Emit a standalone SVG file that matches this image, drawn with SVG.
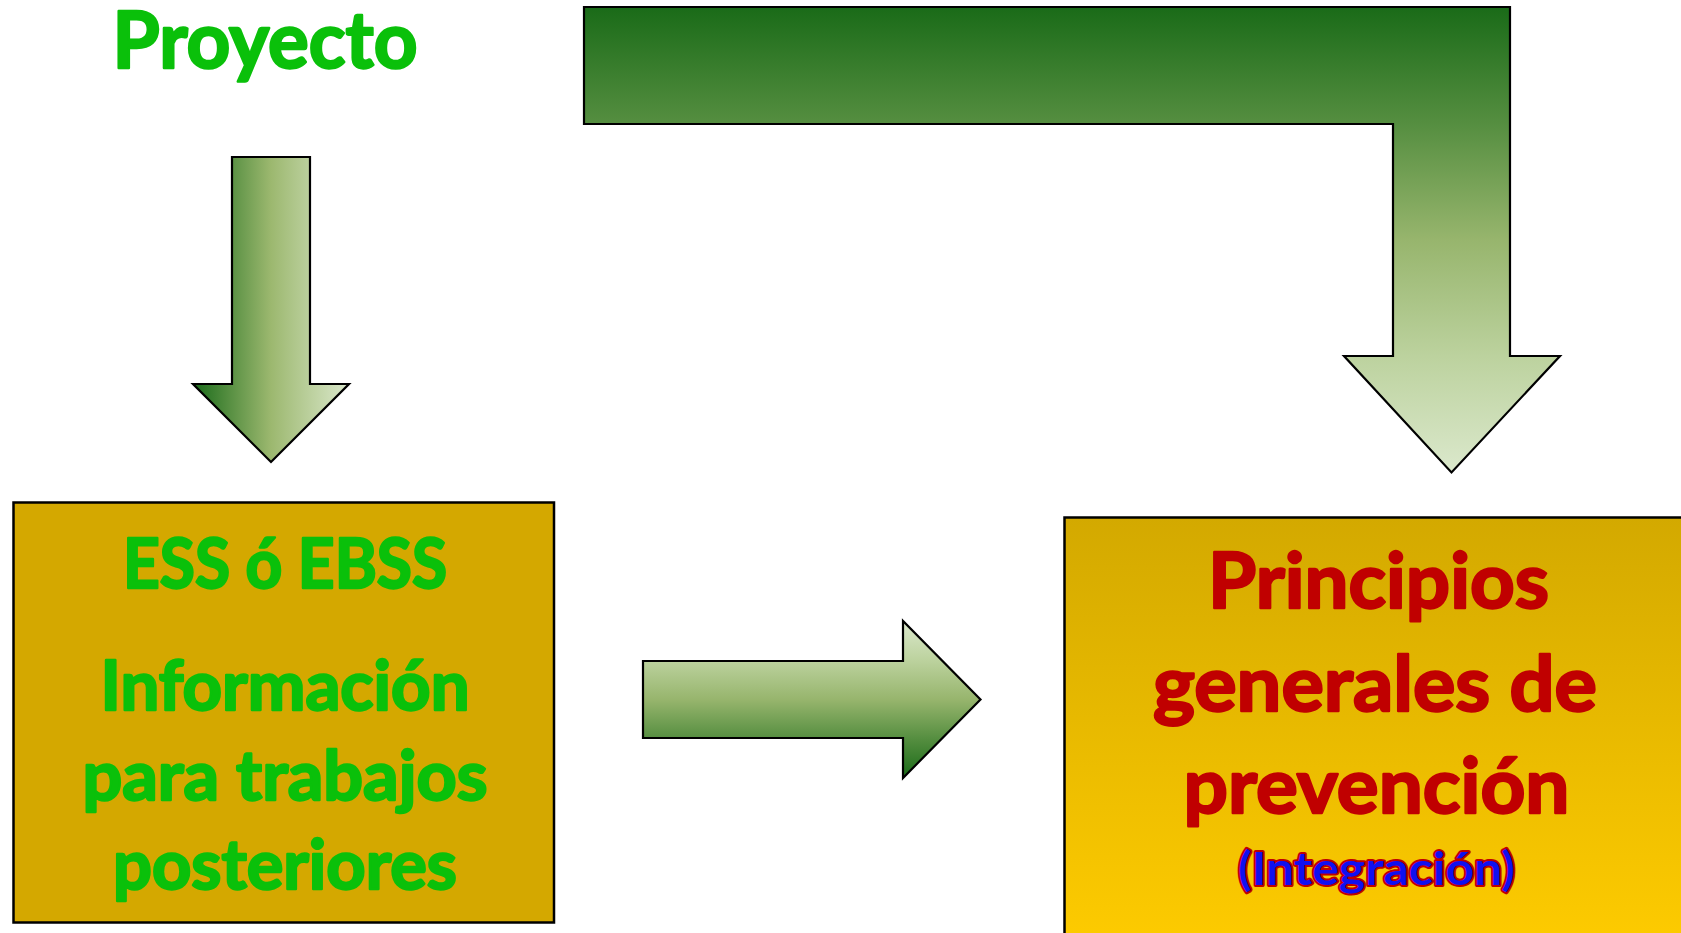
<svg xmlns="http://www.w3.org/2000/svg" width="1681" height="933" viewBox="0 0 1681 933">
  <style>
    .t { font-family: Lato, "Open Sans", "Liberation Sans", sans-serif; font-weight: 700; text-anchor: middle; stroke-linejoin: round; }
    .green { fill: #0ac00a; stroke: #0ac00a; stroke-width: 2.4; }
    .red { fill: #c00000; stroke: #c00000; stroke-width: 2.4; }
    .blue { fill: #1010f0; stroke: #c00000; stroke-width: 4; paint-order: stroke; }
    .arrow { stroke: #000; stroke-width: 2.2; stroke-linejoin: miter; }
    .box { stroke: #000; stroke-width: 2.5; }
  </style>
  <defs>
    <linearGradient id="gH" x1="0" y1="0" x2="1" y2="0">
      <stop offset="0" stop-color="#1a6b1a"/>
      <stop offset="0.5" stop-color="#9cb86f"/>
      <stop offset="1" stop-color="#dbe8cc"/>
    </linearGradient>
    <linearGradient id="gV" x1="0" y1="0" x2="0" y2="1">
      <stop offset="0" stop-color="#1a6b18"/>
      <stop offset="0.25" stop-color="#558e40"/>
      <stop offset="0.5" stop-color="#97b56d"/>
      <stop offset="0.75" stop-color="#bcd29e"/>
      <stop offset="1" stop-color="#dbe8cc"/>
    </linearGradient>
    <linearGradient id="gUp" x1="0" y1="1" x2="0" y2="0">
      <stop offset="0" stop-color="#1a6b18"/>
      <stop offset="0.25" stop-color="#558e40"/>
      <stop offset="0.5" stop-color="#97b56d"/>
      <stop offset="0.75" stop-color="#bcd29e"/>
      <stop offset="1" stop-color="#dbe8cc"/>
    </linearGradient>
    <linearGradient id="gGold" x1="0" y1="0" x2="0" y2="1">
      <stop offset="0" stop-color="#d3a900"/>
      <stop offset="1" stop-color="#ffcc00"/>
    </linearGradient>
  </defs>

  <g id="proyecto">
    <text class="t green" x="265" y="68" font-size="78" textLength="305" lengthAdjust="spacingAndGlyphs">Proyecto</text>
  </g>

  <g id="connectors">
    <path id="arrow-down-left" class="arrow" fill="url(#gH)" d="M232,157 L310,157 L310,384 L349,384 L271,462 L193,384 L232,384 Z"/>
    <path id="arrow-bent" class="arrow" fill="url(#gV)" d="M584,7 L1510,7 L1510,356 L1560,356 L1451.5,472.5 L1344,356 L1393,356 L1393,124 L584,124 Z"/>
    <path id="arrow-right" class="arrow" fill="url(#gUp)" d="M643,661 L903,661 L903,621 L980.5,699.5 L903,778 L903,738 L643,738 Z"/>
  </g>

  <g id="ess-box">
    <rect class="box" x="13.5" y="502.5" width="540.5" height="420" fill="#d4a800"/>
    <text class="t green" x="285" y="588" font-size="68" textLength="324" lengthAdjust="spacingAndGlyphs">ESS ó EBSS</text>
    <text class="t green" x="285" y="710" font-size="68" textLength="369" lengthAdjust="spacingAndGlyphs">Información</text>
    <text class="t green" x="285" y="800" font-size="68" textLength="405" lengthAdjust="spacingAndGlyphs">para trabajos</text>
    <text class="t green" x="285" y="889" font-size="68" textLength="344" lengthAdjust="spacingAndGlyphs">posteriores</text>
  </g>

  <g id="principios-box">
    <rect class="box" x="1064.5" y="517.5" width="640" height="440" fill="url(#gGold)"/>
    <text class="t red" x="1378.5" y="608" font-size="77" textLength="341" lengthAdjust="spacingAndGlyphs">Principios</text>
    <text class="t red" x="1375" y="710.5" font-size="77" textLength="444" lengthAdjust="spacingAndGlyphs">generales de</text>
    <text class="t red" x="1376.5" y="813" font-size="77" textLength="386" lengthAdjust="spacingAndGlyphs">prevención</text>
    <text class="t blue" x="1376.5" y="885" font-size="46" textLength="277" lengthAdjust="spacingAndGlyphs">(Integración)</text>
  </g>
</svg>
